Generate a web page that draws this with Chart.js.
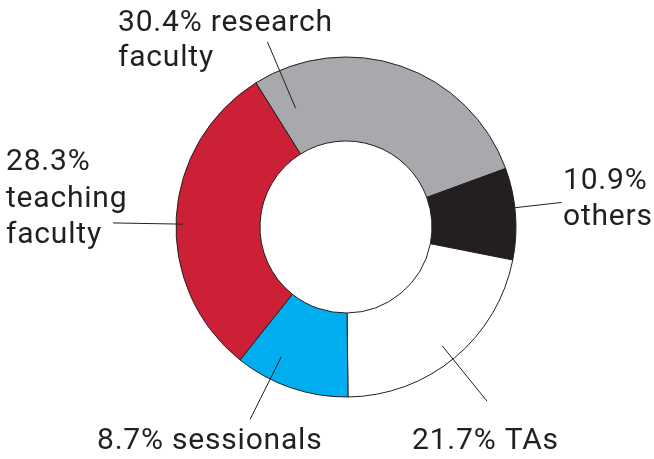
<!DOCTYPE html>
<html>
<head>
<meta charset="utf-8">
<script src="https://cdn.jsdelivr.net/npm/chart.js@4/dist/chart.umd.min.js"></script>
<style>
    body { margin: 0; background: #ffffff; }
    #chartCanvas { display: block; }
</style>
</head>
<body>
<canvas id="chartCanvas" width="654" height="459"></canvas>
<script>
// Categories in drawing order, clockwise from the top-left
const categories = ['research faculty', 'others', 'TAs', 'sessionals', 'teaching faculty'];

// Share of the ring each slice takes up, as drawn in the picture
const arcShares = [28.3, 8.7, 21.7, 10.9, 30.4];

// Percentages printed next to each slice
const printedPercents = ['30.4%', '10.9%', '21.7%', '8.7%', '28.3%'];

const sliceColors = ['#a7a9ac', '#231f20', '#ffffff', '#00aeef', '#cc2036'];

// Where each label goes and how its text is broken into lines
const labelLayout = [
    { x: 118, baselines: [31, 66], split: p => [p + ' research', 'faculty'], angle: -23, r0: 129, r1: 201 },
    { x: 563, baselines: [189, 225], split: p => [p, 'others'], angle: 83.5, r0: 147, r1: 217 },
    { x: 412, baselines: [449], split: p => [p + ' TAs'], angle: 141, r0: 153, r1: 224 },
    { x: 97, baselines: [449], split: p => [p + ' sessionals'], angle: 206.5, r0: 145, r1: 215 },
    { x: 6, baselines: [170, 207, 243], split: p => [p, 'teaching', 'faculty'], angle: 271, r0: 163, r1: 233 }
];

// Plugin that writes the labels and their leader lines
const sliceLabels = {
    id: 'sliceLabels',
    afterDraw(chart) {
        try {
            const ctx = chart.ctx;
            const arc = chart.getDatasetMeta(0).data[0];
            const cx = arc.x;
            const cy = arc.y;

            ctx.save();
            ctx.strokeStyle = '#231f20';
            ctx.lineWidth = 1;
            ctx.fillStyle = '#231f20';
            ctx.font = '30px Roboto';
            ctx.letterSpacing = '0.8px';
            ctx.textAlign = 'left';
            ctx.textBaseline = 'alphabetic';

            labelLayout.forEach((lay, i) => {
                // leader line, radial from the ring centre
                const a = (lay.angle - 90) * Math.PI / 180;
                ctx.beginPath();
                ctx.moveTo(cx + Math.cos(a) * lay.r0, cy + Math.sin(a) * lay.r0);
                ctx.lineTo(cx + Math.cos(a) * lay.r1, cy + Math.sin(a) * lay.r1);
                ctx.stroke();

                // label text
                const lines = lay.split(printedPercents[i]);
                lines.forEach((line, k) => {
                    ctx.fillText(line, lay.x, lay.baselines[k]);
                });
            });
            ctx.restore();
        } catch (e) {
            console.error(e);
        }
    }
};

const chart = new Chart(document.getElementById('chartCanvas').getContext('2d'), {
    type: 'doughnut',
    data: {
        labels: categories,
        datasets: [{
            data: arcShares,
            backgroundColor: sliceColors,
            borderColor: '#231f20',
            borderWidth: 1,
            hoverOffset: 0
        }]
    },
    options: {
        responsive: false,
        animation: false,
        devicePixelRatio: 1,
        rotation: -32,
        radius: 170,
        cutout: '50.6%',
        layout: { padding: { left: 38, right: 0, top: 0, bottom: 5 } },
        plugins: {
            legend: { display: false },
            tooltip: { enabled: false }
        }
    },
    plugins: [sliceLabels]
});
</script>
</body>
</html>
